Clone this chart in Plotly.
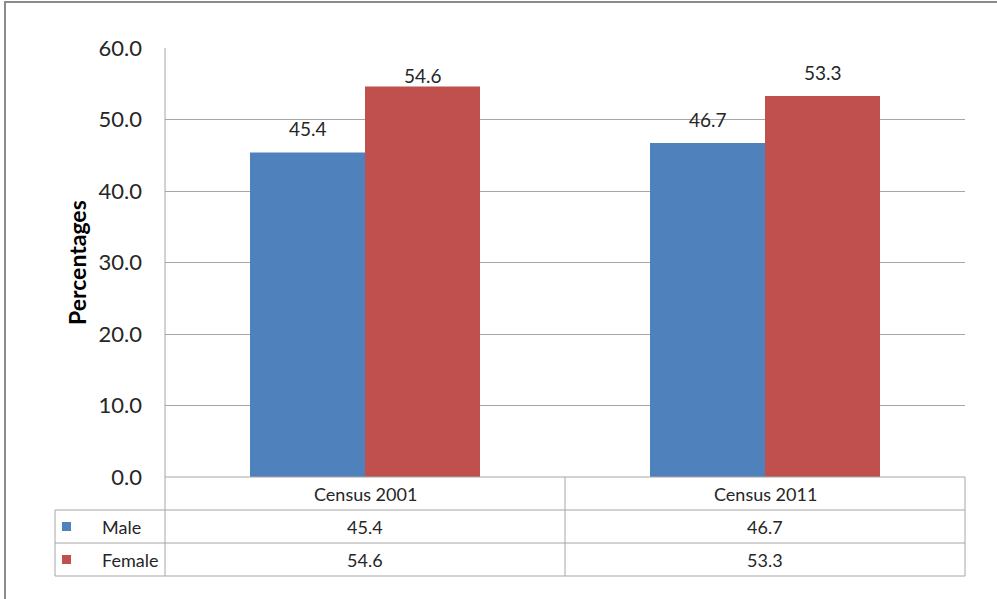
import plotly.graph_objects as go

categories = ["Census 2001", "Census 2011"]
series_names = ["Male", "Female"]
male = [45.4, 46.7]
female = [54.6, 53.3]
colors = ["#4F81BD", "#C0504D"]
y_ticks = [0, 10, 20, 30, 40, 50, 60]
# vertical offset (px) of each data label above its bar, per series
label_shift = [[10, 10], [-2, 10]]

FONT = "Lato, 'Open Sans', sans-serif"
TXT = "#262626"
GRID = "#A6A6A6"

# screen-pixel geometry of plot area
L, R, T, B = 165, 965, 48, 477
W, H = R - L, B - T
def X(px):
    return (px - L) / W
def Y(py):
    return (B - py) / H

fig = go.Figure()
values = [male, female]
for name, vals, col in zip(series_names, values, colors):
    fig.add_trace(go.Bar(x=categories, y=vals, name=name, marker_color=col,
                         marker_line_width=0, showlegend=False))

bar_w = 115 / 400  # bar width in category units
offsets = [-bar_w / 2, bar_w / 2]
annotations = []
for s, (vals, off) in enumerate(zip(values, offsets)):
    for i, v in enumerate(vals):
        annotations.append(dict(x=i + off, y=v, xref="x", yref="y", text=f"{v:.1f}",
                                showarrow=False, yanchor="bottom", yshift=label_shift[s][i],
                                font=dict(family=FONT, size=19, color=TXT)))

# y axis title
annotations.append(dict(x=X(77), y=Y(263), xref="paper", yref="paper", text="<b>Percentages</b>",
                        textangle=-90, showarrow=False, xanchor="center", yanchor="middle",
                        font=dict(family=FONT, size=23, color="#000000")))

# table header
row_h = 33
for i, c in enumerate(categories):
    annotations.append(dict(x=i, y=Y(B + row_h / 2), xref="x", yref="paper", text=c,
                            showarrow=False, xanchor="center", yanchor="middle",
                            font=dict(family=FONT, size=18, color=TXT)))
shapes = []
for r, (name, vals, col) in enumerate(zip(series_names, values, colors)):
    yc = B + row_h * (r + 1.5)
    annotations.append(dict(x=X(100), y=Y(yc), xref="paper", yref="paper", text=name,
                            showarrow=False, xanchor="left", yanchor="middle",
                            font=dict(family=FONT, size=18, color=TXT)))
    shapes.append(dict(type="rect", xref="paper", yref="paper",
                       x0=X(62), x1=X(71), y0=Y(yc - 4.5), y1=Y(yc + 4.5),
                       fillcolor=col, line_width=0))
    for i, v in enumerate(vals):
        annotations.append(dict(x=i, y=Y(yc), xref="x", yref="paper", text=f"{v:.1f}",
                                showarrow=False, xanchor="center", yanchor="middle",
                                font=dict(family=FONT, size=18, color=TXT)))

def line(x0, y0, x1, y1, color=GRID, width=1):
    shapes.append(dict(type="line", xref="paper", yref="paper",
                       x0=X(x0), x1=X(x1), y0=Y(y0), y1=Y(y1),
                       line=dict(color=color, width=width), layer="above"))

for py in [B + row_h, B + 2 * row_h, B + 3 * row_h]:
    line(55, py, R, py)
line(L, B, R, B)
line(55, B + row_h, 55, B + 3 * row_h)
line(L, T, L, B + 3 * row_h)
line(565, B, 565, B + 3 * row_h)
line(R, B, R, B + 3 * row_h)

# outer frame
shapes.append(dict(type="rect", xref="paper", yref="paper",
                   x0=X(5), x1=X(1010), y0=Y(2), y1=Y(620),
                   line=dict(color="#8C8C8C", width=2), fillcolor="rgba(0,0,0,0)"))

fig.update_layout(
    width=997, height=599,
    margin=dict(l=L, r=997 - R, t=T, b=599 - B, pad=0),
    paper_bgcolor="white", plot_bgcolor="white",
    barmode="group", bargap=170 / 400, bargroupgap=0,
    xaxis=dict(range=[-0.5, 1.5], showticklabels=False, showgrid=False, zeroline=False,
               showline=False, ticks=""),
    yaxis=dict(range=[0, 60], tickvals=y_ticks, tickformat=".1f", showgrid=True,
               gridcolor=GRID, gridwidth=1, zeroline=False, showline=False, ticks="",
               ticklabelstandoff=22,
               tickfont=dict(family=FONT, size=22, color=TXT)),
    annotations=annotations, shapes=shapes,
    showlegend=False,
)

fig.write_html("out.html", config={"displayModeBar": False},
               post_script="document.body.style.margin='0';")
